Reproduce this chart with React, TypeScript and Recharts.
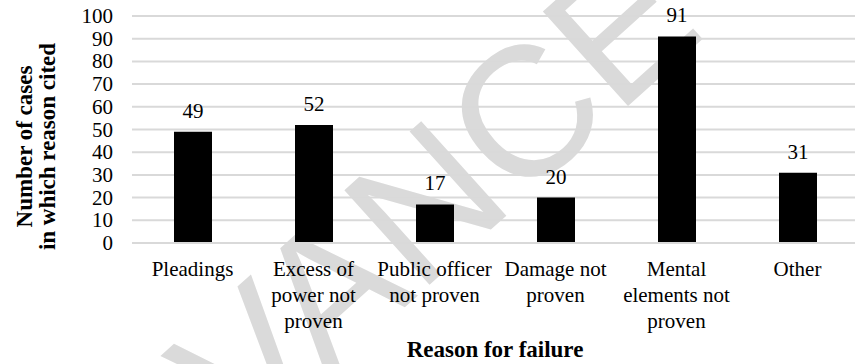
import { BarChart, Bar, XAxis, YAxis, CartesianGrid, LabelList, Label } from "recharts";

const categories = [
  "Pleadings",
  "Excess of power not proven",
  "Public officer not proven",
  "Damage not proven",
  "Mental elements not proven",
  "Other",
];

// how each category name breaks under its bar
const tickLines: Record<string, string[]> = {
  "Pleadings": ["Pleadings"],
  "Excess of power not proven": ["Excess of", "power not", "proven"],
  "Public officer not proven": ["Public officer", "not proven"],
  "Damage not proven": ["Damage not", "proven"],
  "Mental elements not proven": ["Mental", "elements not", "proven"],
  "Other": ["Other"],
};

const cases = [49, 52, 17, 20, 91, 31];
const yTicks = [0, 10, 20, 30, 40, 50, 60, 70, 80, 90, 100];

const data = categories.map((reason, i) => ({ reason, cases: cases[i] }));

const serif = "'Times New Roman', 'Liberation Serif', serif";
const gridGray = "#d9d9d9";
const textStyle = { fontFamily: serif, fontSize: 21 };
const titleStyle = { fontFamily: serif, fontSize: 23, fontWeight: 700 };

function ReasonTick({ x, y, payload }: any) {
  const lines = tickLines[payload.value] ?? [payload.value];
  return (
    <text x={x} y={y} textAnchor="middle" style={textStyle} fill="#000">
      {lines.map((line, i) => (
        <tspan key={i} x={x} y={y + 33 + i * 26}>
          {line}
        </tspan>
      ))}
    </text>
  );
}

function ValueTick({ x, y, payload }: any) {
  return (
    <text x={x} y={y} dy={7} textAnchor="end" style={textStyle} fill="#000">
      {payload.value}
    </text>
  );
}

function ValueLabel({ x, y, width, value }: any) {
  return (
    <text x={x + width / 2} y={y - 14} textAnchor="middle" style={textStyle} fill="#000">
      {value}
    </text>
  );
}

function YTitle({ viewBox }: any) {
  const cy = viewBox.y + viewBox.height / 2 + 17;
  return (
    <g style={titleStyle} fill="#000">
      <text x={32} y={cy} textAnchor="middle" transform={`rotate(-90 32 ${cy})`}>
        Number of cases
      </text>
      <text x={55} y={cy} textAnchor="middle" transform={`rotate(-90 55 ${cy})`}>
        in which reason cited
      </text>
    </g>
  );
}

function XTitle() {
  return (
    <text x={495} y={357} textAnchor="middle" style={titleStyle} fill="#000">
      Reason for failure
    </text>
  );
}

export default function App() {
  return (
    <div style={{ position: "absolute", left: 0, top: 0, width: 855, height: 364, overflow: "hidden", background: "#fff", fontFamily: serif }}>
      {/* faint diagonal stamp behind the chart */}
      <svg width={855} height={364} style={{ position: "absolute", left: 0, top: 0 }}>
        <text
          x={54}
          y={623}
          transform="rotate(-42 54 623)"
          style={{ fontFamily: "'Liberation Sans', Arial, sans-serif", fontSize: 185 }}
          fill="#dadada"
        >
          ADVANCE
        </text>
      </svg>
      <div style={{ position: "absolute", left: 0, top: 0 }}>
        <BarChart width={860} height={364} data={data} margin={{ top: 16, right: 2, bottom: 0, left: 0 }}>
          <CartesianGrid vertical={false} stroke={gridGray} strokeWidth={2} />
          <XAxis
            dataKey="reason"
            height={121}
            interval={0}
            tickLine={false}
            tickSize={0}
            tickMargin={0}
            axisLine={{ stroke: gridGray, strokeWidth: 2 }}
            tick={<ReasonTick />}
          >
            <Label content={<XTitle />} />
          </XAxis>
          <YAxis
            width={132}
            domain={[0, 100]}
            ticks={yTicks}
            interval={0}
            axisLine={false}
            tickLine={false}
            tickSize={0}
            tickMargin={19}
            tick={<ValueTick />}
          >
            <Label content={<YTitle />} />
          </YAxis>
          <Bar dataKey="cases" fill="#000" barSize={38} isAnimationActive={false}>
            <LabelList dataKey="cases" content={<ValueLabel />} />
          </Bar>
        </BarChart>
      </div>
    </div>
  );
}
